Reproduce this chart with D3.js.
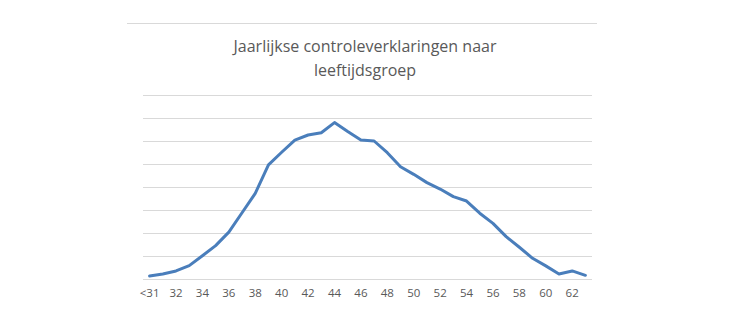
<!DOCTYPE html>
<html><head><meta charset="utf-8">
<script src="https://cdn.jsdelivr.net/npm/d3@7"></script>
<style>body{margin:0;background:#fff;} svg{display:block;}</style>
</head><body>
<svg id="chart" width="730" height="330"></svg>
<script>
const categories = ["<31","31","32","33","34","35","36","37","38","39","40","41","42","43","44","45","46","47","48","49","50","51","52","53","54","55","56","57","58","59","60","61","62","63"];
const values = [0.13,0.22,0.35,0.58,1.01,1.45,2.04,2.88,3.72,4.96,5.51,6.04,6.26,6.36,6.80,6.41,6.04,6.00,5.49,4.88,4.55,4.19,3.91,3.58,3.39,2.86,2.42,1.84,1.38,0.90,0.57,0.22,0.35,0.16];
const gridTicks = [0,1,2,3,4,5,6,7,8];
const titleLines = ["Jaarlijkse controleverklaringen naar","leeftijdsgroep"];

(function(){
const svg = d3.select("#chart");
const plotLeft = 143, plotRight = 592, plotTop = 95, plotBottom = 279;

svg.append("line").attr("x1",127).attr("x2",597).attr("y1",23.5).attr("y2",23.5)
  .attr("stroke","#d9d9d9").attr("stroke-width",1);

const x = d3.scaleBand().domain(categories).range([plotLeft,plotRight]);
const y = d3.scaleLinear().domain([0,8]).range([plotBottom,plotTop]);

svg.append("g").selectAll("line").data(gridTicks).join("line")
  .attr("x1",plotLeft).attr("x2",plotRight)
  .attr("y1",d=>Math.round(y(d))+0.5).attr("y2",d=>Math.round(y(d))+0.5)
  .attr("stroke","#d9d9d9").attr("stroke-width",1);

const xAxis = d3.axisBottom(x).tickSize(0).tickPadding(10)
  .tickValues(categories.filter((c,i)=>i%2===0));
const gx = svg.append("g").attr("transform",`translate(0,${plotBottom})`).call(xAxis);
gx.select(".domain").remove();
gx.selectAll("text").attr("font-family","'Open Sans', sans-serif").attr("font-size","11.5px").attr("fill","#595959");

const line = d3.line().x((d,i)=>x(categories[i])+x.bandwidth()/2).y(d=>y(d));
svg.append("path").datum(values).attr("d",line).attr("fill","none")
  .attr("stroke","#4a7ebb").attr("stroke-width",3).attr("stroke-linejoin","round").attr("stroke-linecap","round");

svg.append("g").selectAll("text").data(titleLines).join("text")
  .attr("x",365).attr("y",(d,i)=>52+i*24).attr("text-anchor","middle")
  .attr("font-family","'Open Sans', sans-serif").attr("font-size","16px").attr("fill","#595959")
  .text(d=>d);
})();
</script>
</body></html>
